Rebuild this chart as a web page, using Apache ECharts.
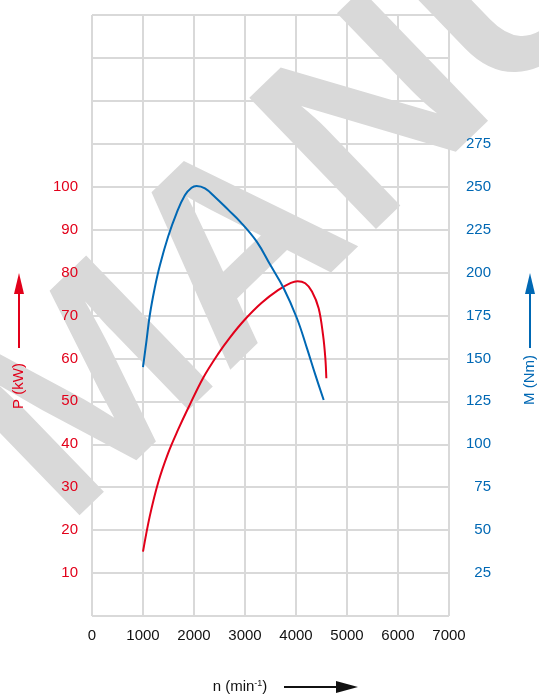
<!DOCTYPE html>
<html>
<head>
<meta charset="utf-8">
<script src="https://cdn.jsdelivr.net/npm/echarts@6/dist/echarts.min.js"></script>
<style>
html,body{margin:0;padding:0;background:#fff;}
#chart{width:539px;height:695px;}
</style>
</head>
<body>
<div id="chart"></div>
<script>
// rpm values and power (kW)
const powerRpm = [1000, 1132, 1295, 1491, 1688, 1884, 2176, 2470, 2700, 2994, 3322, 3648, 3900, 4030, 4181, 4313, 4444, 4530, 4575, 4595];
const powerKW  = [15.0, 23.2, 31.0, 37.9, 43.4, 48.4, 55.4, 61.0, 64.8, 69.0, 72.9, 75.9, 77.6, 78.0, 77.5, 75.6, 71.7, 65.5, 60.1, 55.4];
// rpm values and torque (Nm)
const torqueRpm = [1000, 1067, 1132, 1230, 1329, 1493, 1657, 1821, 1952, 2050, 2215, 2411, 2673, 2904, 3230, 3495, 3756, 4018, 4214, 4380, 4543];
const torqueNm  = [145, 160, 175, 191, 204, 221, 234.5, 245, 249.4, 250.4, 249, 244, 236.5, 229.7, 218, 204.5, 191, 173.4, 156, 140.4, 125.8];
// tick labels
const xTicks = [0, 1000, 2000, 3000, 4000, 5000, 6000, 7000];
const powerTicks = [10, 20, 30, 40, 50, 60, 70, 80, 90, 100];
const torqueTicks = [25, 50, 75, 100, 125, 150, 175, 200, 225, 250, 275];

const RED = '#e2001a';
const BLUE = '#0068b4';
const GRID = '#d9d9d9';
const FONT = '"Liberation Sans", Arial, sans-serif';

const chart = echarts.init(document.getElementById('chart'), null, {renderer: 'canvas'});

const hidden = {show: false};
const option = {
  animation: false,
  backgroundColor: '#fff',
  grid: {left: 92, right: 90, top: 15, bottom: 79, containLabel: false},
  xAxis: [
    {
      type: 'value', min: 0, max: 7000, interval: 1000, position: 'bottom', z: 0,
      axisLine: hidden, axisTick: hidden, axisLabel: hidden,
      splitLine: {show: true, lineStyle: {color: GRID, width: 2}}
    },
    {
      type: 'value', min: 0, max: 7000, interval: 1000, position: 'bottom', z: 3,
      axisLine: hidden, axisTick: hidden, splitLine: hidden,
      axisLabel: {color: '#111', fontSize: 15, fontFamily: FONT, margin: 12,
        formatter: v => xTicks.includes(v) ? String(v) : ''}
    }
  ],
  yAxis: [
    {
      type: 'value', min: 0, max: 140, interval: 10, position: 'left', z: 0,
      axisLine: hidden, axisTick: hidden, axisLabel: hidden,
      splitLine: {show: true, lineStyle: {color: GRID, width: 2}}
    },
    {
      type: 'value', min: 0, max: 350, interval: 25, position: 'right', z: 3,
      axisLine: hidden, axisTick: hidden, splitLine: hidden,
      axisLabel: {color: BLUE, fontSize: 15, fontFamily: FONT, margin: 42, align: 'right',
        formatter: v => torqueTicks.includes(v) ? String(v) : ''}
    },
    {
      type: 'value', min: 0, max: 140, interval: 10, position: 'left', z: 3,
      axisLine: hidden, axisTick: hidden, splitLine: hidden,
      axisLabel: {color: RED, fontSize: 15, fontFamily: FONT, margin: 14,
        formatter: v => powerTicks.includes(v) ? String(v) : ''}
    }
  ],
  graphic: [
    {
      type: 'text', z: 1, silent: true,
      x: 16, y: 475, rotation: 44 * Math.PI / 180,
      style: {text: 'MANUALS', fill: '#d9d9d9', font: 'bold 265px "Liberation Sans", Arial, sans-serif',
        align: 'left', verticalAlign: 'middle'}
    },
    // left axis title and arrow
    {
      type: 'text', z: 5, x: 19, y: 386, rotation: Math.PI / 2,
      style: {text: 'P (kW)', fill: RED, font: '15px "Liberation Sans", Arial, sans-serif', align: 'center', verticalAlign: 'middle'}
    },
    {type: 'line', z: 5, shape: {x1: 19, y1: 348, x2: 19, y2: 290}, style: {stroke: RED, lineWidth: 2}},
    {type: 'polygon', z: 5, shape: {points: [[19, 273], [14, 294], [24, 294]]}, style: {fill: RED}},
    // right axis title and arrow
    {
      type: 'text', z: 5, x: 530, y: 380, rotation: Math.PI / 2,
      style: {text: 'M (Nm)', fill: BLUE, font: '15px "Liberation Sans", Arial, sans-serif', align: 'center', verticalAlign: 'middle'}
    },
    {type: 'line', z: 5, shape: {x1: 530, y1: 348, x2: 530, y2: 290}, style: {stroke: BLUE, lineWidth: 2}},
    {type: 'polygon', z: 5, shape: {points: [[530, 273], [525, 294], [535, 294]]}, style: {fill: BLUE}},
    // x axis title and arrow
    {
      type: 'text', z: 5, x: 240, y: 687,
      style: {
        text: 'n (min{sup|-1})', fill: '#111', font: '15px "Liberation Sans", Arial, sans-serif', align: 'center', verticalAlign: 'middle',
        rich: {sup: {fontSize: 9, verticalAlign: 'top', fill: '#111', fontFamily: FONT}}
      }
    },
    {type: 'line', z: 5, shape: {x1: 284, y1: 687, x2: 338, y2: 687}, style: {stroke: '#111', lineWidth: 2}},
    {type: 'polygon', z: 5, shape: {points: [[358, 687], [336, 681], [336, 693]]}, style: {fill: '#111'}}
  ],
  series: [
    {
      type: 'line', name: 'P', xAxisIndex: 0, yAxisIndex: 0, smooth: 0.35, showSymbol: false, z: 10,
      data: powerRpm.map((r, i) => [r, powerKW[i]]),
      lineStyle: {color: RED, width: 2}
    },
    {
      type: 'line', name: 'M', xAxisIndex: 0, yAxisIndex: 1, smooth: 0.4, showSymbol: false, z: 10,
      data: torqueRpm.map((r, i) => [r, torqueNm[i]]),
      lineStyle: {color: BLUE, width: 2}
    }
  ]
};
chart.setOption(option);
</script>
</body>
</html>
